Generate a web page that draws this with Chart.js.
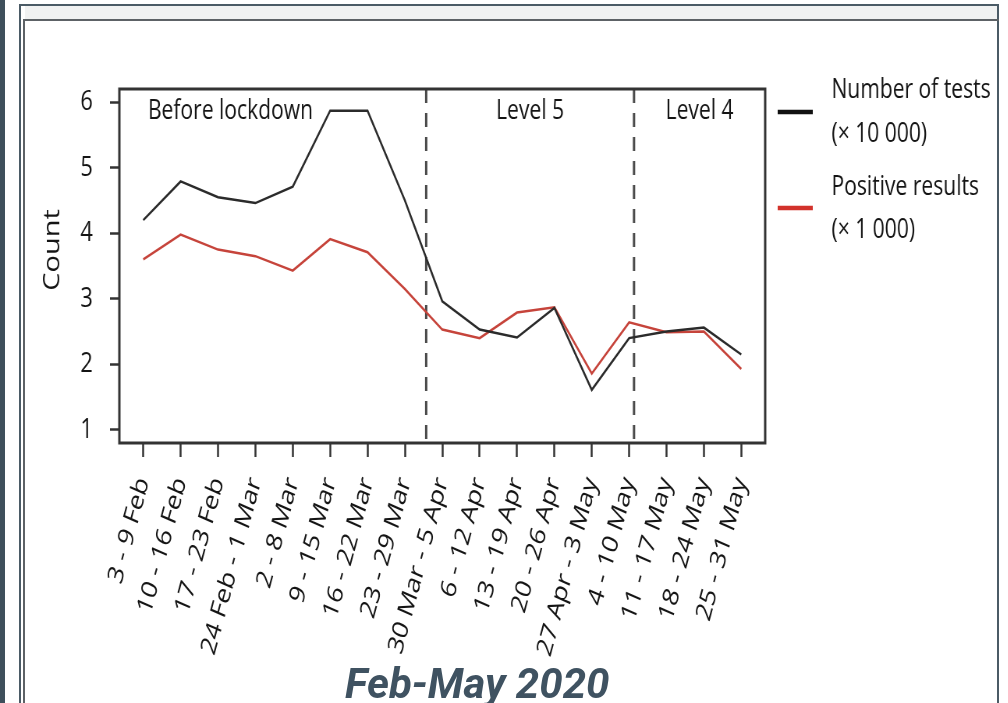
<!DOCTYPE html>
<html>
<head>
<meta charset="utf-8">
<title>Weekly tests and positive results, Feb-May 2020</title>
<script src="https://cdn.jsdelivr.net/npm/chart.js@4.4.1/dist/chart.umd.min.js"></script>
<style>
  html, body { margin: 0; padding: 0; background: #fff; width: 1008px; height: 703px; overflow: hidden; position: relative; }
  .edge { position: absolute; left: 0; top: 0; width: 5px; height: 703px; background: #3e4f5b; }
  .frame-outer { position: absolute; left: 19px; top: 4px; width: 976px; height: 720px;
                 border-left: 2px solid #4b5b66; border-top: 2px solid #4b5b66; border-right: 2px solid #4b5b66; }
  .frame-band { position: absolute; left: 25px; top: 6px; width: 972px; height: 13px; background: #f1f2f2; }
  .frame-inner { position: absolute; left: 23px; top: 19px; width: 974px; height: 720px;
                 border-left: 2px solid #5d6266; border-top: 2px solid #5d6266; }
  #wrap { position: absolute; left: 0; top: 0; width: 1293px; height: 703px; transform: scaleX(0.78); transform-origin: 0 0;
          filter: blur(0.5px); }
  .title { position: absolute; left: 345px; top: 663px; font: italic 700 42px Roboto, sans-serif; line-height: 42px;
           color: #3f5261; white-space: nowrap; }
</style>
</head>
<body>
<div class="edge"></div>
<div class="frame-outer"></div>
<div class="frame-band"></div>
<div class="frame-inner"></div>
<div id="wrap"><canvas id="chart" width="1293" height="703"></canvas></div>
<div class="title">Feb-May 2020</div>

<script>
// Weekly periods on the x axis
const weekLabels = [
  '3 - 9 Feb', '10 - 16 Feb', '17 - 23 Feb', '24 Feb - 1 Mar', '2 - 8 Mar',
  '9 - 15 Mar', '16 - 22 Mar', '23 - 29 Mar', '30 Mar - 5 Apr', '6 - 12 Apr',
  '13 - 19 Apr', '20 - 26 Apr', '27 Apr - 3 May', '4 - 10 May', '11 - 17 May',
  '18 - 24 May', '25 - 31 May'
];

// Number of tests, in units of 10 000
const testsPer10k = [4.20, 4.79, 4.55, 4.46, 4.71, 5.87, 5.87, 4.50, 2.96, 2.53, 2.41, 2.86, 1.61, 2.40, 2.50, 2.56, 2.15];

// Positive results, in units of 1 000
const positivesPer1k = [3.60, 3.98, 3.75, 3.65, 3.43, 3.91, 3.71, 3.15, 2.53, 2.40, 2.79, 2.87, 1.86, 2.64, 2.49, 2.50, 1.93];

// Count axis
const yTickValues = [1, 2, 3, 4, 5, 6];
const yMin = 0.8, yMax = 6.2;

// Alert-level boundaries (week index, fractional) and their names
const phaseBreaks = [7.57, 13.13];
const phaseNames = ['Before lockdown', 'Level 5', 'Level 4'];

const seriesNames = [['Number of tests', '(× 10 000)'], ['Positive results', '(× 1 000)']];
const seriesColors = ['#2b2b2b', '#c6443b'];
const legendColors = ['#111111', '#d2322b'];

const FONT = "'Open Sans', 'Noto Sans', sans-serif";
const TEXT = '#141414';
const xPad = 0.64;

const decor = {
  id: 'decor',
  beforeDatasetsDraw(chart) {
    const { ctx, chartArea: a, scales: { x } } = chart;
    ctx.save();
    ctx.strokeStyle = '#4a4a4a';
    ctx.lineWidth = 3;
    ctx.setLineDash([14, 10]);
    phaseBreaks.forEach(v => {
      const px = x.getPixelForValue(v);
      ctx.beginPath();
      ctx.moveTo(px, a.top);
      ctx.lineTo(px, a.bottom);
      ctx.stroke();
    });
    ctx.restore();
  },
  afterDraw(chart) {
    const { ctx, chartArea: a, scales: { x } } = chart;
    ctx.save();

    // plot frame
    ctx.strokeStyle = '#333';
    ctx.lineWidth = 3;
    ctx.strokeRect(a.left, a.top, a.right - a.left, a.bottom - a.top);

    // phase names
    ctx.fillStyle = TEXT;
    ctx.font = `27px ${FONT}`;
    ctx.textBaseline = 'alphabetic';
    const b0 = x.getPixelForValue(phaseBreaks[0]);
    const b1 = x.getPixelForValue(phaseBreaks[1]);
    const ty = a.top + 30;
    ctx.textAlign = 'left';
    ctx.fillText(phaseNames[0], x.getPixelForValue(0) + 6, ty);
    ctx.textAlign = 'center';
    ctx.fillText(phaseNames[1], (b0 + b1) / 2, ty);
    ctx.fillText(phaseNames[2], (b1 + a.right) / 2, ty);

    // legend
    const lx0 = a.right + 16, lx1 = a.right + 61, tx = a.right + 85;
    const rows = [
      { y: 112, l1: 98, l2: 142 },
      { y: 208, l1: 195, l2: 238 }
    ];
    rows.forEach((r, i) => {
      ctx.strokeStyle = legendColors[i];
      ctx.lineWidth = 4.5;
      ctx.beginPath();
      ctx.moveTo(lx0, r.y);
      ctx.lineTo(lx1, r.y);
      ctx.stroke();
      ctx.fillStyle = TEXT;
      ctx.textAlign = 'left';
      ctx.fillText(seriesNames[i][0], tx, r.l1);
      ctx.fillText(seriesNames[i][1], tx, r.l2);
    });

    // y axis title
    ctx.translate(68, 250);
    ctx.rotate(-Math.PI / 2);
    ctx.textAlign = 'center';
    ctx.textBaseline = 'middle';
    ctx.font = `29px ${FONT}`;
    ctx.fillText('Count', 0, 0);
    ctx.restore();
  }
};

const makeSeries = vals => vals.map((v, i) => ({ x: i, y: v }));

new Chart(document.getElementById('chart'), {
  type: 'line',
  data: {
    datasets: [
      { label: seriesNames[0].join(' '), data: makeSeries(testsPer10k), borderColor: seriesColors[0],
        borderWidth: 2.5, pointRadius: 0, tension: 0, fill: false },
      { label: seriesNames[1].join(' '), data: makeSeries(positivesPer1k), borderColor: seriesColors[1],
        borderWidth: 2.5, pointRadius: 0, tension: 0, fill: false }
    ]
  },
  options: {
    responsive: false,
    animation: false,
    events: [],
    layout: { padding: { top: 89, right: 312, left: 0, bottom: 0 } },
    plugins: { legend: { display: false }, tooltip: { enabled: false } },
    scales: {
      x: {
        type: 'linear',
        min: -xPad,
        max: weekLabels.length - 1 + xPad,
        afterBuildTicks: s => { s.ticks = weekLabels.map((_, i) => ({ value: i })); },
        afterFit: s => { s.height = 260; },
        border: { display: false },
        grid: { drawOnChartArea: false, drawTicks: true, tickLength: 14, tickWidth: 2.5, tickColor: '#333' },
        ticks: {
          autoSkip: false, maxRotation: 71, minRotation: 71, padding: 16,
          color: TEXT, font: { family: FONT, size: 28 },
          callback: v => weekLabels[v]
        }
      },
      y: {
        min: yMin,
        max: yMax,
        afterBuildTicks: s => { s.ticks = yTickValues.map(v => ({ value: v })); },
        afterFit: s => { s.width = 153; },
        border: { display: false },
        grid: { drawOnChartArea: false, drawTicks: true, tickLength: 12, tickWidth: 2.5, tickColor: '#333' },
        ticks: { padding: 22, color: TEXT, font: { family: FONT, size: 28 } }
      }
    }
  },
  plugins: [decor]
});
</script>
</body>
</html>
